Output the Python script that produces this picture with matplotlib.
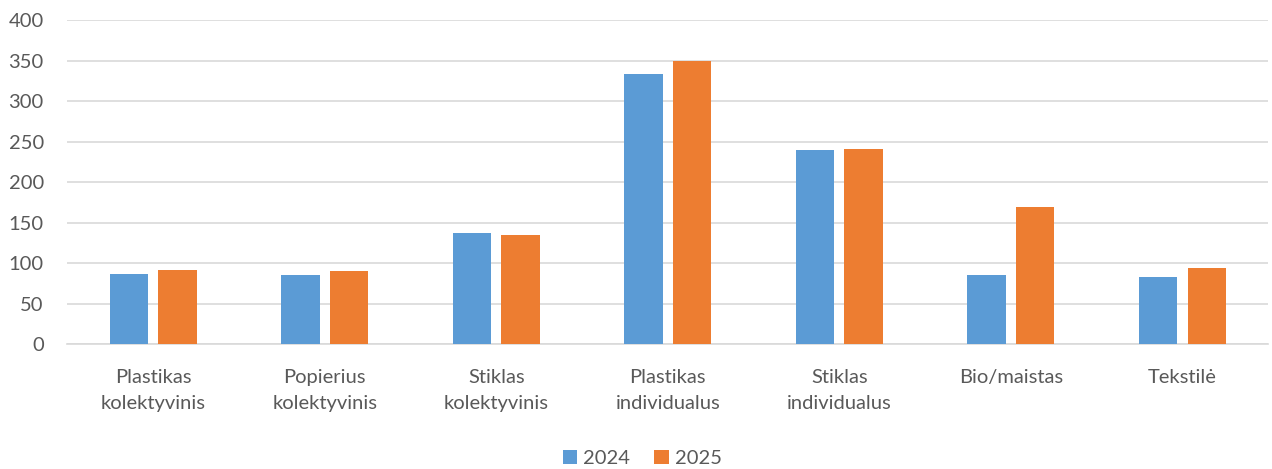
import numpy as np
import matplotlib.pyplot as plt

# duomenys
kategorijos = ["Plastikas\nkolektyvinis", "Popierius\nkolektyvinis", "Stiklas\nkolektyvinis",
               "Plastikas\nindividualus", "Stiklas\nindividualus", "Bio/maistas", "Tekstilė"]
metai_2024 = [87, 85, 137, 333, 240, 85, 83]
metai_2025 = [92, 91, 135, 350, 241, 170, 94]

plt.rcParams['font.family'] = ['Lato', 'DejaVu Sans']

fig = plt.figure(figsize=(12.72, 4.69), dpi=100)
ax = fig.add_axes([0.053, 0.266, 0.944, 0.691])

x = np.arange(len(kategorijos))
plotis = 0.224
ax.bar(x - 0.142, metai_2024, plotis, color="#5B9BD5", label="2024", zorder=3)
ax.bar(x + 0.142, metai_2025, plotis, color="#ED7D31", label="2025", zorder=3)

ax.set_xlim(-0.5, len(kategorijos) - 0.5)
ax.set_ylim(0, 400)
ax.set_yticks(range(0, 401, 50))
ax.yaxis.grid(True, color="#d9d9d9", linewidth=1.2, zorder=0)
for s in ["top", "right", "left"]:
    ax.spines[s].set_visible(False)
ax.spines["bottom"].set_color("#d9d9d9")
ax.spines["bottom"].set_linewidth(1.2)

ax.set_xticks(x)
ax.set_xticklabels(kategorijos, linespacing=1.6)
ax.tick_params(axis="both", length=0, labelsize=14.5, labelcolor="#595959")
ax.tick_params(axis="x", pad=18)
ax.tick_params(axis="y", pad=17)

fig.legend(loc="lower center", ncol=2, frameon=False, fontsize=14.5, labelcolor="#595959",
           handlelength=0.7, handleheight=0.7, handletextpad=0.3, columnspacing=1.2,
           bbox_to_anchor=(0.505, -0.035))

fig.savefig("out.png", dpi=100)
